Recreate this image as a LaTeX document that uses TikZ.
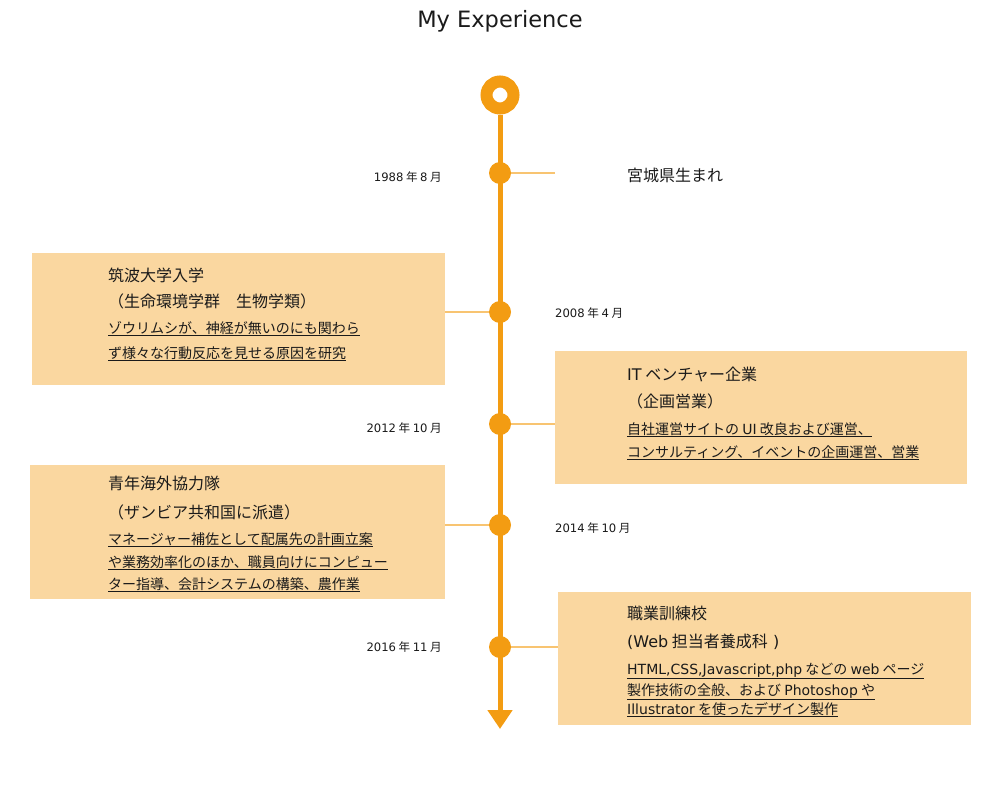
\documentclass[tikz,border=0pt]{standalone}
\usepackage{fontspec}
\setmainfont{Noto Sans CJK JP}
\newfontfamily\lat{DejaVu Sans}
\usetikzlibrary{arrows.meta}
\definecolor{mainc}{HTML}{F39C12}
\definecolor{connc}{HTML}{F8C471}
\definecolor{cardc}{HTML}{FAD7A0}
\definecolor{txtc}{HTML}{1A1A1A}
\begin{document}
\begin{tikzpicture}[x=1pt,y=-1pt,
  titlest/.style={font=\lat\fontsize{22.5}{26}\selectfont, text=txtc, inner sep=0, anchor=base},
  datest/.style={font=\fontsize{11.6}{13}\selectfont, text=txtc, inner sep=0},
  headst/.style={font=\fontsize{16}{18}\selectfont, text=txtc, anchor=base west, inner sep=0},
  bodyst/.style={font=\fontsize{14}{16}\selectfont, text=txtc, anchor=base west, inner sep=0},
  card/.style={fill=cardc, draw=none, anchor=north west, inner sep=0},
  dotst/.style={circle, fill=mainc, minimum size=22pt, inner sep=0},
  ringst/.style={circle, draw=mainc, line width=12pt, fill=white, minimum size=27pt, inner sep=0},
  conn/.style={draw=connc, line width=1.5pt},
  spine/.style={draw=mainc, line width=5pt}]
\useasboundingbox (0,0) rectangle (1000,800);

\node[titlest] (title) at (500,28) {My Experience};

% cards
\node[card, minimum width=413pt, minimum height=132pt] (c1) at (32,253) {};
\node[card, minimum width=412pt, minimum height=133pt] (c2) at (555,351) {};
\node[card, minimum width=415pt, minimum height=134pt] (c3) at (30,465) {};
\node[card, minimum width=413pt, minimum height=133pt] (c4) at (558,592) {};

% spine
\coordinate (s) at (500,115);
\coordinate (e) at (500,729);
\draw[spine, -{Triangle[width=24pt,length=19pt]}] (s) -- (e);
\node[ringst] (top) at (500,95) {};

% dots
\node[dotst] (d1) at (500,173) {};
\node[dotst] (d2) at (500,312) {};
\node[dotst] (d3) at (500,424) {};
\node[dotst] (d4) at (500,525) {};
\node[dotst] (d5) at (500,647) {};

% connectors
\coordinate (f1) at (555,173);
\draw[conn] (d1.east) -- (f1);
\draw[conn] (c1.east |- d2) -- (d2.west);
\draw[conn] (d3.east) -- (c2.west |- d3);
\draw[conn] (c3.east |- d4) -- (d4.west);
\draw[conn] (d5.east) -- (c4.west |- d5);

% dates
\node[datest, anchor=base east] (y1) at (442,181) {{\lat 1988} 年 {\lat 8} 月};
\node[datest, anchor=base west] (y2) at (555,317) {{\lat 2008} 年 {\lat 4} 月};
\node[datest, anchor=base east] (y3) at (442,432) {{\lat 2012} 年 {\lat 10} 月};
\node[datest, anchor=base west] (y4) at (555,532) {{\lat 2014} 年 {\lat 10} 月};
\node[datest, anchor=base east] (y5) at (442,651) {{\lat 2016} 年 {\lat 11} 月};

% 1988
\node[headst] (b0) at (627,181) {宮城県生まれ};

% card 1
\node[headst] (t11) at (108,281) {筑波大学入学};
\node[headst] (t12) at (108,307) {（生命環境学群　生物学類）};
\node[bodyst] (t13) at (108,333) {\underline{ゾウリムシが、神経が無いのにも関わら}};
\node[bodyst] (t14) at (108,358) {\underline{ず様々な行動反応を見せる原因を研究}};

% card 2
\node[headst] (t21) at (627,380) {{\lat IT} ベンチャー企業};
\node[headst] (t22) at (627,407) {（企画営業）};
\node[bodyst] (t23) at (627,434) {\underline{自社運営サイトの {\lat UI} 改良および運営、}};
\node[bodyst] (t24) at (627,457) {\underline{コンサルティング、イベントの企画運営、営業}};

% card 3
\node[headst] (t31) at (108,489) {青年海外協力隊};
\node[headst] (t32) at (108,518) {（ザンビア共和国に派遣）};
\node[bodyst] (t33) at (108,544) {\underline{マネージャー補佐として配属先の計画立案}};
\node[bodyst] (t34) at (108,567) {\underline{や業務効率化のほか、職員向けにコンピュー}};
\node[bodyst] (t35) at (108,589) {\underline{ター指導、会計システムの構築、農作業}};

% card 4
\node[headst] (t41) at (627,619) {職業訓練校};
\node[headst] (t42) at (627,647) {{\lat (Web} 担当者養成科{\lat \ )}};
\node[bodyst] (t43) at (627,674) {\underline{{\lat HTML,CSS,Javascript,php} などの {\lat web} ページ}};
\node[bodyst] (t44) at (627,695) {\underline{製作技術の全般、および {\lat Photoshop} や}};
\node[bodyst] (t45) at (627,714) {\underline{{\lat Illustrator} を使ったデザイン製作}};
\end{tikzpicture}
\end{document}
